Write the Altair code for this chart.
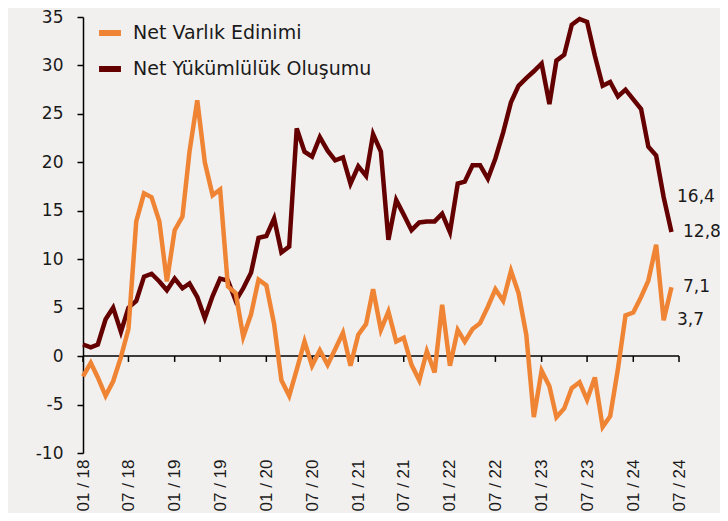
import altair as alt
import pandas as pd

# ---- data (monthly, 01/2018 .. 06/2024) ----
months = pd.date_range("2018-01-01", periods=78, freq="MS").strftime("%Y-%m-%dT00:00:00").tolist()

net_varlik = [
    -2.1, -0.7, -2.2, -4.1, -2.6, -0.1, 2.8, 13.9, 16.8, 16.4,
    13.9, 7.7, 13.0, 14.4, 21.1, 26.4, 20.0, 16.6, 17.2, 7.2,
    6.5, 2.0, 4.3, 7.9, 7.3, 3.3, -2.5, -4.1, -1.4, 1.5,
    -1.0, 0.6, -0.9, 0.7, 2.4, -1.0, 2.2, 3.3, 6.9, 2.7,
    4.6, 1.5, 1.9, -0.9, -2.5, 0.5, -1.7, 5.3, -1.0, 2.7,
    1.5, 2.8, 3.4, 5.1, 6.9, 5.7, 8.8, 6.5, 2.2, -6.3,
    -1.5, -3.1, -6.3, -5.4, -3.3, -2.7, -4.5, -2.2, -7.3, -6.2,
    -1.3, 4.2, 4.5, 6.1, 7.8, 11.5, 3.7, 7.1,
]

net_yukumluluk = [
    1.2, 0.9, 1.2, 3.8, 5.0, 2.5, 5.0, 5.7, 8.2, 8.5,
    7.7, 6.8, 8.0, 7.0, 7.5, 6.1, 3.9, 6.2, 8.0, 7.8,
    5.7, 7.0, 8.6, 12.2, 12.4, 14.2, 10.7, 11.3, 23.5, 21.1,
    20.6, 22.6, 21.2, 20.2, 20.5, 17.8, 19.6, 18.6, 22.9, 21.1,
    12.0, 16.1, 14.6, 13.0, 13.8, 13.9, 13.9, 14.7, 12.8, 17.8,
    18.0, 19.7, 19.7, 18.3, 20.4, 23.1, 26.2, 27.9, 28.7, 29.4,
    30.2, 26.0, 30.5, 31.1, 34.2, 34.8, 34.5, 31.0, 27.9, 28.3,
    26.8, 27.5, 26.5, 25.5, 21.6, 20.7, 16.4, 12.8,
]

series_names = ["Net Varlık Edinimi", "Net Yükümlülük Oluşumu"]
series_colors = ["#EE8434", "#650000"]

tick_years = [2018, 2018, 2019, 2019, 2020, 2020, 2021, 2021, 2022, 2022, 2023, 2023, 2024, 2024]
tick_months = [1, 7, 1, 7, 1, 7, 1, 7, 1, 7, 1, 7, 1, 7]
tick_dates = [f"{y}-{m:02d}-01T00:00:00" for y, m in zip(tick_years, tick_months)]

y_ticks = [-10, -5, 0, 5, 10, 15, 20, 25, 30, 35]

ann_near_labels = ["16,4", "3,7"]
ann_near_values = [16.4, 3.7]
ann_far_labels = ["12,8", "7,1"]
ann_far_values = [12.8, 7.1]

# ---- tables ----
df_v = pd.DataFrame({"date": months, "value": net_varlik, "series": series_names[0]})
df_y = pd.DataFrame({"date": months, "value": net_yukumluluk, "series": series_names[1]})
df_ticks = pd.DataFrame({"date": tick_dates})
df_zero = pd.DataFrame({"d1": [tick_dates[0]], "d2": [tick_dates[-1]]})
df_near = pd.DataFrame({"date": [tick_dates[-1]] * 2, "v": ann_near_values, "t": ann_near_labels})
df_far = pd.DataFrame({"date": [tick_dates[-1]] * 2, "v": ann_far_values, "t": ann_far_labels})

W, H = 596, 436
TXT = "#1a1a1a"

x_scale = alt.Scale(domain=[alt.DateTime(year=2018, month=1, date=1),
                            alt.DateTime(year=2024, month=7, date=1)], nice=False)
x_axis = alt.Axis(
    values=[alt.DateTime(year=y, month=m, date=1) for y, m in zip(tick_years, tick_months)],
    format="%m / %y", labelAngle=270, labelAlign="right", labelBaseline="middle",
    labelFont="Liberation Sans", labelFontSize=17, labelColor=TXT, labelPadding=6,
    domain=False, ticks=False, grid=False, title=None, labelOverlap=False,
)
y_scale = alt.Scale(domain=[-10, 35], nice=False, zero=False)
y_axis = alt.Axis(
    values=y_ticks, grid=False, title=None, domainColor="#000000", domainWidth=1.5,
    tickColor="#000000", tickWidth=1.5, tickSize=6, labelPadding=14,
    labelExpr="'' + datum.value",
    labelFont="DejaVu Sans", labelFontSize=17, labelColor=TXT,
)

def X(field):
    return alt.X(field, type="temporal", scale=x_scale, axis=x_axis)

color = alt.Color(
    "series:N",
    scale=alt.Scale(domain=series_names, range=series_colors),
    legend=alt.Legend(
        orient="none", legendX=13, legendY=2, title=None, padding=0,
        symbolType="stroke", symbolSize=480, symbolStrokeWidth=6,
        labelFont="DejaVu Sans", labelFontSize=19, labelColor=TXT, labelLimit=0,
        labelOffset=9, rowPadding=10,
    ),
)

zero_line = alt.Chart(df_zero).mark_rule(color="#000000", strokeWidth=1.5).encode(
    x=X("d1"), x2="d2:T", y=alt.Y(datum=0, scale=y_scale, axis=y_axis),
)
zero_ticks = alt.Chart(df_ticks).mark_rule(color="#000000", strokeWidth=1.5).encode(
    x=X("date"), y=alt.Y(datum=0, scale=y_scale, axis=y_axis), y2=alt.datum(-0.6),
)

line_y = alt.Chart(df_y).mark_line(strokeWidth=4.5).encode(
    x=X("date"), y=alt.Y("value:Q", scale=y_scale, axis=y_axis), color=color,
)
line_v = alt.Chart(df_v).mark_line(strokeWidth=4.5).encode(
    x=X("date"), y=alt.Y("value:Q", scale=y_scale, axis=y_axis), color=color,
)

txt_near = alt.Chart(df_near).mark_text(
    align="left", baseline="middle", dx=-2, font="DejaVu Sans", fontSize=17, color=TXT
).encode(x=X("date"), y=alt.Y("v:Q", scale=y_scale, axis=y_axis), text="t:N")
txt_far = alt.Chart(df_far).mark_text(
    align="left", baseline="middle", dx=4, font="DejaVu Sans", fontSize=17, color=TXT
).encode(x=X("date"), y=alt.Y("v:Q", scale=y_scale, axis=y_axis), text="t:N")

chart = alt.layer(zero_line, zero_ticks, line_y, line_v, txt_near, txt_far).properties(
    width=W, height=H,
    autosize=alt.AutoSizeParams(type="none"),
    padding={"left": 75, "top": 9, "right": 41, "bottom": 60},
    background="#F2F0EE",
).configure_view(stroke=None)

chart.save("out.html", embed_options={"renderer": "svg", "actions": False})
